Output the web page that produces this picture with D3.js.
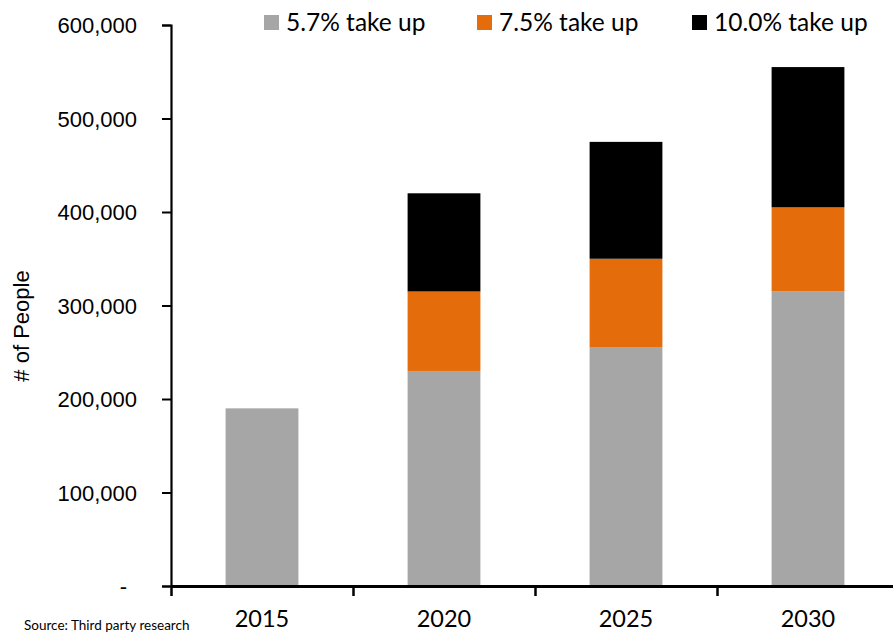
<!DOCTYPE html>
<html>
<head>
<meta charset="utf-8">
<script src="https://cdn.jsdelivr.net/npm/d3@7"></script>
<style>
  body { margin: 0; background: #fff; }
  svg { display: block; }
</style>
</head>
<body>
<svg id="chart" width="893" height="633"></svg>
<script>
// data
var years = ["2015", "2020", "2025", "2030"];
var takeUp57 = [190000, 230000, 255000, 315000];
var takeUp75 = [0, 85000, 95000, 90000];   // increment above 5.7%
var takeUp100 = [0, 105000, 125000, 150000]; // increment above 7.5%
var seriesNames = ["5.7% take up", "7.5% take up", "10.0% take up"];
var seriesColors = ["#a6a6a6", "#e46c0a", "#000000"];
var yTicks = [0, 100000, 200000, 300000, 400000, 500000, 600000];

// set the dimensions of the plot area
var margin = { left: 171, top: 25, bottom: 586, right: 899 };

var svg = d3.select("#chart");

var x = d3.scaleBand()
  .domain(years)
  .range([margin.left, margin.right])
  .paddingInner(0.6)
  .paddingOuter(0.3);

var y = d3.scaleLinear().domain([0, 600000]).range([margin.bottom, margin.top]);

// stack the three layers
var rows = years.map(function (yr, i) {
  return { year: yr, a: takeUp57[i], b: takeUp75[i], c: takeUp100[i] };
});
var layers = d3.stack().keys(["a", "b", "c"])(rows);

svg.append("g")
  .selectAll("g")
  .data(layers)
  .enter()
  .append("g")
  .attr("fill", function (d, i) { return seriesColors[i]; })
  .selectAll("rect")
  .data(function (d) { return d.filter(function (p) { return p[1] > p[0]; }); })
  .enter()
  .append("rect")
  .attr("x", function (d) { return x(d.data.year); })
  .attr("width", x.bandwidth())
  .attr("y", function (d) { return y(d[1]); })
  .attr("height", function (d) { return y(d[0]) - y(d[1]); });

// y axis
var yAxis = svg.append("g")
  .attr("transform", "translate(" + margin.left + ",0)")
  .call(d3.axisLeft(y)
    .tickValues(yTicks)
    .tickSize(9)
    .tickPadding(25)
    .tickFormat(function (d) { return d === 0 ? "-" : d3.format(",")(d); }));
yAxis.select(".domain").attr("stroke", "#000").attr("stroke-width", 2.2);
yAxis.selectAll(".tick line").attr("stroke", "#000").attr("stroke-width", 2);
yAxis.selectAll(".tick text")
  .attr("font-family", "'Liberation Sans', Arial, sans-serif")
  .attr("font-size", 22)
  .attr("fill", "#000")
  .attr("dy", "0.36em");
yAxis.selectAll(".tick text").filter(function (d) { return d === 0; })
  .attr("x", -44);

// x axis: tick marks between the categories
var xb = d3.scaleLinear().domain([0, years.length]).range([margin.left, margin.right]);
var xAxis = svg.append("g")
  .attr("transform", "translate(0," + margin.bottom + ")")
  .call(d3.axisBottom(xb)
    .tickValues(d3.range(years.length + 1))
    .tickSize(10)
    .tickSizeOuter(0)
    .tickFormat(""));
xAxis.select(".domain").attr("stroke", "#000").attr("stroke-width", 3);
xAxis.selectAll(".tick line").attr("stroke", "#000").attr("stroke-width", 2.5);

var xLabels = svg.append("g")
  .attr("transform", "translate(0," + margin.bottom + ")")
  .call(d3.axisBottom(x).tickSize(0).tickPadding(0));
xLabels.select(".domain").remove();
xLabels.selectAll(".tick text")
  .attr("font-family", "Lato, 'Open Sans', sans-serif")
  .attr("font-size", 23.5)
  .attr("fill", "#000")
  .attr("dy", null)
  .attr("y", 41);

// y axis title
svg.append("text")
  .attr("transform", "translate(29,326) rotate(-90)")
  .attr("text-anchor", "middle")
  .attr("font-family", "'Liberation Sans', Arial, sans-serif")
  .attr("font-size", 22)
  .text("# of People");

// legend
var legendX = [264, 477, 692];
var legend = svg.append("g")
  .selectAll("g")
  .data(seriesNames)
  .enter()
  .append("g")
  .attr("transform", function (d, i) { return "translate(" + legendX[i] + ",15)"; });
legend.append("rect")
  .attr("width", 15)
  .attr("height", 15)
  .attr("fill", function (d, i) { return seriesColors[i]; });
legend.append("text")
  .attr("x", 22)
  .attr("y", 16)
  .attr("font-family", "Lato, 'Open Sans', sans-serif")
  .attr("font-size", 24.5)
  .attr("fill", "#000")
  .text(function (d) { return d; });

// source note
svg.append("text")
  .attr("x", 24)
  .attr("y", 630)
  .attr("font-family", "Lato, 'Open Sans', sans-serif")
  .attr("font-size", 13.5)
  .attr("fill", "#000")
  .text("Source: Third party research");
</script>
</body>
</html>
